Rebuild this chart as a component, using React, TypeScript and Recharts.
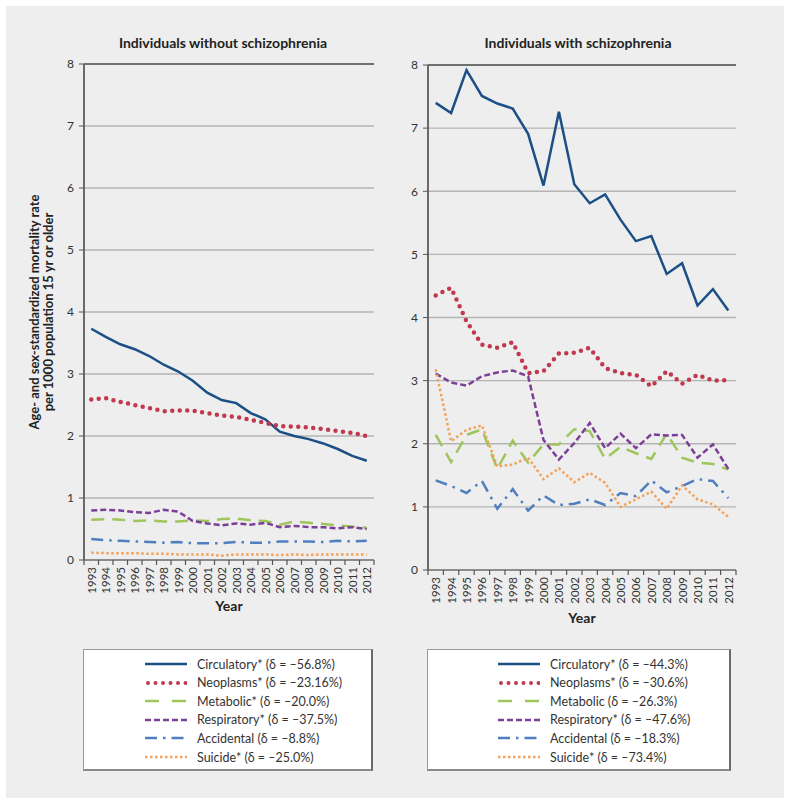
import { LineChart, Line, XAxis, YAxis, CartesianGrid, ReferenceLine } from 'recharts';

const years = [1993, 1994, 1995, 1996, 1997, 1998, 1999, 2000, 2001, 2002, 2003, 2004, 2005, 2006, 2007, 2008, 2009, 2010, 2011, 2012];
const yTicks = [0, 1, 2, 3, 4, 5, 6, 7, 8];

// individuals without schizophrenia
const withoutCirculatory = [3.73, 3.60, 3.48, 3.40, 3.29, 3.15, 3.04, 2.89, 2.70, 2.58, 2.53, 2.37, 2.27, 2.07, 2.00, 1.95, 1.88, 1.79, 1.68, 1.60];
const withoutNeoplasms = [2.59, 2.61, 2.55, 2.50, 2.45, 2.40, 2.41, 2.41, 2.37, 2.33, 2.31, 2.26, 2.21, 2.16, 2.15, 2.14, 2.11, 2.08, 2.05, 2.00];
const withoutMetabolic = [0.65, 0.66, 0.65, 0.63, 0.64, 0.62, 0.62, 0.64, 0.63, 0.66, 0.67, 0.64, 0.63, 0.57, 0.62, 0.60, 0.58, 0.56, 0.54, 0.52];
const withoutRespiratory = [0.80, 0.81, 0.80, 0.77, 0.76, 0.81, 0.78, 0.63, 0.59, 0.56, 0.59, 0.57, 0.60, 0.53, 0.55, 0.53, 0.53, 0.51, 0.53, 0.50];
const withoutAccidental = [0.34, 0.32, 0.31, 0.30, 0.29, 0.28, 0.29, 0.27, 0.27, 0.27, 0.29, 0.28, 0.28, 0.30, 0.30, 0.30, 0.29, 0.31, 0.30, 0.31];
const withoutSuicide = [0.12, 0.11, 0.11, 0.11, 0.10, 0.10, 0.09, 0.09, 0.09, 0.07, 0.09, 0.09, 0.09, 0.08, 0.09, 0.08, 0.09, 0.09, 0.09, 0.09];

// individuals with schizophrenia
const withCirculatory = [7.40, 7.24, 7.92, 7.51, 7.39, 7.31, 6.91, 6.09, 7.26, 6.11, 5.81, 5.95, 5.55, 5.21, 5.29, 4.69, 4.86, 4.19, 4.45, 4.11];
const withNeoplasms = [4.35, 4.47, 3.94, 3.57, 3.52, 3.61, 3.12, 3.15, 3.43, 3.44, 3.52, 3.20, 3.12, 3.09, 2.91, 3.15, 2.95, 3.09, 3.00, 3.01];
const withMetabolic = [2.14, 1.71, 2.14, 2.23, 1.60, 2.05, 1.70, 1.99, 1.99, 2.23, 2.20, 1.76, 1.95, 1.85, 1.76, 2.16, 1.78, 1.70, 1.68, 1.59];
const withRespiratory = [3.11, 2.97, 2.92, 3.07, 3.13, 3.16, 3.07, 2.06, 1.75, 2.01, 2.33, 1.93, 2.16, 1.93, 2.15, 2.13, 2.14, 1.78, 1.99, 1.60];
const withAccidental = [1.42, 1.33, 1.22, 1.41, 0.97, 1.28, 0.94, 1.18, 1.03, 1.05, 1.12, 1.03, 1.22, 1.17, 1.42, 1.23, 1.33, 1.44, 1.41, 1.14];
const withSuicide = [3.18, 2.04, 2.22, 2.29, 1.64, 1.67, 1.78, 1.44, 1.61, 1.39, 1.54, 1.38, 1.00, 1.12, 1.24, 0.97, 1.34, 1.12, 1.04, 0.84];

const withoutLegend = ['Circulatory* (δ = –56.8%)', 'Neoplasms* (δ = –23.16%)', 'Metabolic* (δ = –20.0%)', 'Respiratory* (δ = –37.5%)', 'Accidental (δ = –8.8%)', 'Suicide* (δ = –25.0%)'];
const withLegend = ['Circulatory* (δ = –44.3%)', 'Neoplasms* (δ = –30.6%)', 'Metabolic (δ = –26.3%)', 'Respiratory* (δ = –47.6%)', 'Accidental (δ = –18.3%)', 'Suicide* (δ = –73.4%)'];

const FONT = 'Lato, "Open Sans", sans-serif';

const seriesStyles = [
  { key: 'circulatory', color: '#1c4f86', width: 2.5, dash: undefined, cap: 'butt' },
  { key: 'neoplasms', color: '#c0394e', width: 4.5, dash: '0 7.5', cap: 'round' },
  { key: 'metabolic', color: '#9fc55c', width: 2.5, dash: '13 8', cap: 'butt' },
  { key: 'respiratory', color: '#7b3f98', width: 2.5, dash: '6 3', cap: 'butt' },
  { key: 'accidental', color: '#4f7fbf', width: 2.5, dash: '12 6 2.5 6', cap: 'butt' },
  { key: 'suicide', color: '#f4a25a', width: 2.5, dash: '2.5 2.5', cap: 'butt' },
];

function buildRows(lists: number[][]) {
  return years.map((year, i) => {
    const row: Record<string, number> = { year };
    seriesStyles.forEach((s, k) => {
      row[s.key] = lists[k][i];
    });
    return row;
  });
}

const withoutData = buildRows([withoutCirculatory, withoutNeoplasms, withoutMetabolic, withoutRespiratory, withoutAccidental, withoutSuicide]);
const withData = buildRows([withCirculatory, withNeoplasms, withMetabolic, withRespiratory, withAccidental, withSuicide]);

function makeYearTick(band: number) {
  return function YearTick(props: any) {
    const { x, y, payload, index } = props;
    const ty = y + 7;
    return (
      <g>
        <line x1={x - band / 2} x2={x - band / 2} y1={y} y2={y + 5} stroke="#555" strokeWidth={1.2} />
        {index === years.length - 1 && (
          <line x1={x + band / 2} x2={x + band / 2} y1={y} y2={y + 5} stroke="#555" strokeWidth={1.2} />
        )}
        <text
          x={x}
          y={ty}
          transform={`rotate(-90 ${x} ${ty})`}
          textAnchor="end"
          dominantBaseline="central"
          fontSize={11.5}
          fontFamily={FONT}
          fill="#333"
        >
          {payload.value}
        </text>
      </g>
    );
  };
}

function YLabel(props: any) {
  const vb = props.viewBox || { x: 0, y: 0, height: 0 };
  const cy = vb.y + vb.height / 2;
  return (
    <g fontFamily={FONT} fontSize={13} fontWeight={700} fill="#222">
      <text x={14} y={cy} transform={`rotate(-90 14 ${cy})`} textAnchor="middle" dominantBaseline="central">
        Age- and sex-standardized mortality rate
      </text>
      <text x={28} y={cy} transform={`rotate(-90 28 ${cy})`} textAnchor="middle" dominantBaseline="central">
        per 1000 population 15 yr or older
      </text>
    </g>
  );
}

interface PanelProps {
  data: Record<string, number>[];
  left: number;
  width: number;
  height: number;
  marginTop: number;
  marginRight: number;
  yWidth: number;
  band: number;
  yearOffset: number;
  showYLabel: boolean;
}

function Panel({ data, left, width, height, marginTop, marginRight, yWidth, band, yearOffset, showYLabel }: PanelProps) {
  return (
    <div style={{ position: 'absolute', left, top: 20 }}>
      <LineChart width={width} height={height} data={data} margin={{ top: marginTop, right: marginRight, left: 0, bottom: 0 }}>
        <CartesianGrid vertical={false} stroke="#b4b4b4" strokeWidth={1.3} />
        <XAxis
          dataKey="year"
          type="number"
          domain={[1992.5, 2012.5]}
          ticks={years}
          interval={0}
          height={60}
          tickSize={0}
          tickMargin={0}
          tickLine={false}
          axisLine={{ stroke: '#7a7a7a', strokeWidth: 1.5 }}
          tick={makeYearTick(band)}
          label={{ value: 'Year', position: 'insideBottom', offset: yearOffset, fontSize: 14, fontWeight: 700, fill: '#222', fontFamily: FONT }}
        />
        <YAxis
          domain={[0, 8]}
          ticks={yTicks}
          width={yWidth}
          tickSize={5}
          tickMargin={5}
          tickLine={{ stroke: '#555' }}
          axisLine={{ stroke: '#6a6a6a', strokeWidth: 2 }}
          tick={{ fontSize: 12, fill: '#333', fontFamily: FONT }}
          label={showYLabel ? <YLabel /> : undefined}
        />
        <YAxis yAxisId="r" orientation="right" domain={[0, 8]} width={0} tick={false} tickLine={false} axisLine={{ stroke: '#8a8a8a', strokeWidth: 2 }} />
        <ReferenceLine y={8} stroke="#555" strokeWidth={1.5} />
        {seriesStyles.map((s) => (
          <Line
            key={s.key}
            dataKey={s.key}
            type="linear"
            stroke={s.color}
            strokeWidth={s.width}
            strokeDasharray={s.dash}
            strokeLinecap={s.cap as any}
            dot={false}
            activeDot={false}
            isAnimationActive={false}
          />
        ))}
      </LineChart>
    </div>
  );
}

function LegendBox({ labels, left, width, lineX }: { labels: string[]; left: number; width: number; lineX: number }) {
  return (
    <div
      style={{
        position: 'absolute',
        left,
        top: 649,
        width,
        height: 122,
        boxSizing: 'border-box',
        background: '#fff',
        border: '1px solid #9a9a9a',
        borderRightColor: '#6a6a6a',
        borderBottomColor: '#8a8a8a',
        borderRightWidth: 2,
        borderBottomWidth: 2,
        fontFamily: FONT,
        fontSize: 12.5,
        color: '#333',
      }}
    >
      {labels.map((label, i) => {
        const s = seriesStyles[i];
        return (
          <div key={label} style={{ position: 'absolute', left: lineX, top: 5 + i * 18.6, height: 18, display: 'flex', alignItems: 'center', whiteSpace: 'nowrap' }}>
            <svg width={42} height={8} style={{ marginRight: 10 }}>
              <line
                x1={s.cap === 'round' ? 3 : 0}
                x2={42}
                y1={4}
                y2={4}
                stroke={s.color}
                strokeWidth={s.key === 'neoplasms' ? 4 : s.width}
                strokeDasharray={s.key === 'metabolic' ? '14 13' : s.dash}
                strokeLinecap={s.cap as any}
              />
            </svg>
            <span>{label}</span>
          </div>
        );
      })}
    </div>
  );
}

export default function App() {
  return (
    <div style={{ position: 'absolute', left: 0, top: 0, width: 791, height: 805, background: '#fff', fontFamily: FONT }}>
      <div style={{ position: 'absolute', left: 6, top: 6, width: 778, height: 792, background: '#edeeed' }} />
      <div style={{ position: 'absolute', left: 0, top: 34, width: 446, textAlign: 'center', fontSize: 14, fontWeight: 700, color: '#222' }}>
        Individuals without schizophrenia
      </div>
      <div style={{ position: 'absolute', left: 378, top: 34, width: 400, textAlign: 'center', fontSize: 14, fontWeight: 700, color: '#222' }}>
        Individuals with schizophrenia
      </div>
      <Panel data={withoutData} left={20} width={380} height={600} marginTop={44} marginRight={26} yWidth={64} band={14.5} yearOffset={9} showYLabel />
      <Panel data={withData} left={400} width={380} height={610} marginTop={45} marginRight={44} yWidth={28} band={15.4} yearOffset={7} showYLabel={false} />
      <LegendBox labels={withoutLegend} left={83} width={290} lineX={61} />
      <LegendBox labels={withLegend} left={427} width={304} lineX={70} />
    </div>
  );
}
